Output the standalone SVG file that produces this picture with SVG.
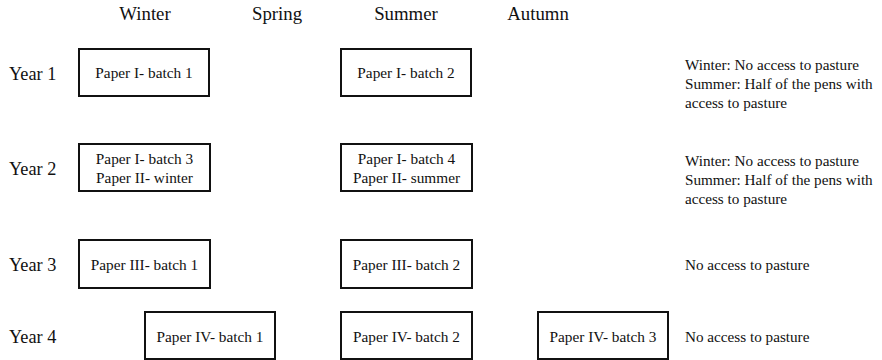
<svg xmlns="http://www.w3.org/2000/svg" width="882" height="360" viewBox="0 0 882 360" font-family="'Liberation Serif','Times New Roman',serif">
<style>
text{font-family:"Liberation Serif","Times New Roman",serif;fill:#111}
.h{font-size:18.8px;text-anchor:middle}
.y{font-size:18.3px}
.b{font-size:15.3px;text-anchor:middle}
.n{font-size:15.2px}
rect{fill:#fff;stroke:#111;stroke-width:2}
</style>
<g id="headers">
<text class="h" x="145" y="20">Winter</text>
<text class="h" x="277" y="20">Spring</text>
<text class="h" x="406" y="20">Summer</text>
<text class="h" x="538" y="20">Autumn</text>
</g>
<g id="years">
<text class="y" x="9" y="80">Year 1</text>
<text class="y" x="9" y="175">Year 2</text>
<text class="y" x="9" y="271">Year 3</text>
<text class="y" x="9" y="343">Year 4</text>
</g>
<g id="y1b1"><rect x="79" y="49" width="130" height="47"/><text class="b" x="144" y="78">Paper I- batch 1</text></g>
<g id="y1b2"><rect x="341" y="49" width="130" height="47"/><text class="b" x="406" y="78">Paper I- batch 2</text></g>
<g id="y2b1"><rect x="79" y="144" width="131" height="47"/><text class="b" x="144.5" y="164">Paper I- batch 3</text><text class="b" x="144.5" y="183">Paper II- winter</text></g>
<g id="y2b2"><rect x="341" y="144" width="131" height="47"/><text class="b" x="406.5" y="164">Paper I- batch 4</text><text class="b" x="406.5" y="183">Paper II- summer</text></g>
<g id="y3b1"><rect x="79" y="240" width="131" height="48"/><text class="b" x="144.5" y="270">Paper III- batch 1</text></g>
<g id="y3b2"><rect x="341" y="240" width="131" height="48"/><text class="b" x="406.5" y="270">Paper III- batch 2</text></g>
<g id="y4b1"><rect x="145" y="312" width="130" height="47"/><text class="b" x="210" y="342">Paper IV- batch 1</text></g>
<g id="y4b2"><rect x="341" y="312" width="131" height="47"/><text class="b" x="406.5" y="342">Paper IV- batch 2</text></g>
<g id="y4b3"><rect x="538" y="312" width="130" height="47"/><text class="b" x="603" y="342">Paper IV- batch 3</text></g>
<g id="notes">
<text class="n" x="685" y="70">Winter: No access to pasture</text>
<text class="n" x="685" y="89">Summer: Half of the pens with</text>
<text class="n" x="685" y="108">access to pasture</text>
<text class="n" x="685" y="166">Winter: No access to pasture</text>
<text class="n" x="685" y="185">Summer: Half of the pens with</text>
<text class="n" x="685" y="204">access to pasture</text>
<text class="n" x="685" y="270">No access to pasture</text>
<text class="n" x="685" y="342">No access to pasture</text>
</g>
<g id="connectors"/>
</svg>
